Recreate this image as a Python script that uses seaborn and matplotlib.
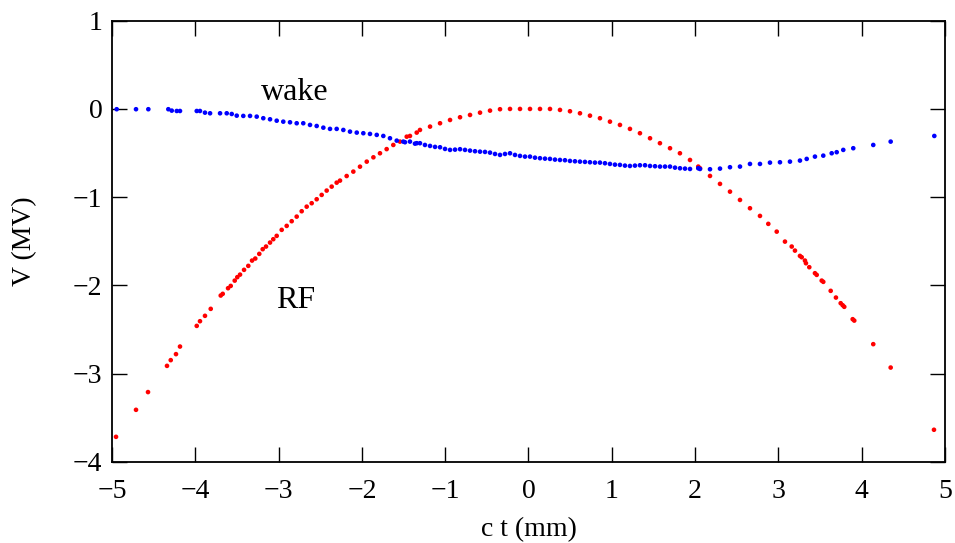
import numpy as np
import pandas as pd
import matplotlib
matplotlib.use("Agg")
import matplotlib.pyplot as plt
import seaborn as sns

# RF voltage (red)
rf_x = [-4.952, -4.712, -4.568, -4.340, -4.295, -4.232, -4.184, -3.983, -3.944, -3.884,
        -3.815, -3.695, -3.671, -3.607, -3.575, -3.527, -3.496, -3.463, -3.415, -3.364,
        -3.319, -3.280, -3.232, -3.191, -3.151, -3.103, -3.064, -3.023, -2.963, -2.903,
        -2.843, -2.783, -2.723, -2.663, -2.603, -2.543, -2.483, -2.423, -2.363, -2.303,
        -2.263, -2.183, -2.103, -2.023, -1.942, -1.862, -1.783, -1.703, -1.623, -1.543,
        -1.462, -1.423, -1.342, -1.303, -1.182, -1.062, -0.942, -0.822, -0.702, -0.582,
        -0.462, -0.342, -0.222, -0.102, 0.018, 0.138, 0.258, 0.378, 0.498, 0.618,
        0.738, 0.858, 0.978, 1.098, 1.218, 1.338, 1.459, 1.578, 1.699, 1.818,
        1.939, 2.038, 2.059, 2.179, 2.299, 2.419, 2.539, 2.659,
        2.779, 2.879, 2.980, 3.079, 3.160, 3.199, 3.259, 3.280, 3.319, 3.331,
        3.371, 3.439, 3.460, 3.520, 3.539, 3.628, 3.691, 3.748, 3.772, 3.791,
        3.892, 3.911, 4.139, 4.348, 4.868]
rf_y = [-3.715, -3.409, -3.208, -2.911, -2.846, -2.778, -2.692, -2.458, -2.405, -2.344,
        -2.265, -2.114, -2.095, -2.031, -2.005, -1.945, -1.906, -1.877, -1.823, -1.778,
        -1.718, -1.695, -1.642, -1.589, -1.559, -1.514, -1.476, -1.438, -1.370, -1.325,
        -1.272, -1.220, -1.159, -1.107, -1.068, -1.023, -0.974, -0.925, -0.880, -0.835,
        -0.812, -0.760, -0.710, -0.654, -0.597, -0.548, -0.502, -0.455, -0.408, -0.370,
        -0.314, -0.306, -0.268, -0.238, -0.200, -0.162, -0.125, -0.094, -0.068, -0.042,
        -0.019, -0.003, 0.000, 0.000, 0.000, 0.000, 0.000, -0.011, -0.026, -0.049,
        -0.076, -0.105, -0.144, -0.181, -0.226, -0.275, -0.332, -0.388, -0.445, -0.502,
        -0.578, -0.653, -0.672, -0.759, -0.849, -0.937, -1.031, -1.125,
        -1.212, -1.302, -1.390, -1.503, -1.559, -1.605, -1.665, -1.680, -1.718, -1.748,
        -1.793, -1.861, -1.880, -1.945, -1.959, -2.061, -2.137, -2.201, -2.224, -2.242,
        -2.382, -2.398, -2.665, -2.930, -3.635]

# wake voltage (blue)
wake_x = [-4.944, -4.712, -4.564, -4.324, -4.283, -4.223, -4.184, -3.983, -3.944, -3.884,
          -3.823, -3.703, -3.623, -3.563, -3.503, -3.424, -3.343, -3.263, -3.184, -3.103,
          -3.023, -2.944, -2.863, -2.783, -2.704, -2.623, -2.543, -2.463, -2.383, -2.303,
          -2.223, -2.143, -2.062, -1.983, -1.903, -1.822, -1.743, -1.663, -1.582, -1.503,
          -1.483, -1.423, -1.363, -1.342, -1.303, -1.243, -1.182, -1.122, -1.062, -1.002,
          -0.942, -0.882, -0.822, -0.762, -0.702, -0.642, -0.582, -0.522, -0.462, -0.402,
          -0.342, -0.282, -0.222, -0.162, -0.102, -0.042, 0.018, 0.078, 0.138, 0.198,
          0.258, 0.318, 0.378, 0.438, 0.498, 0.558, 0.618, 0.678, 0.738, 0.798,
          0.858, 0.918, 0.978, 1.038, 1.098, 1.158, 1.218, 1.278, 1.338, 1.399,
          1.459, 1.519, 1.579, 1.639, 1.699, 1.759, 1.819, 1.879, 1.939,
          2.038, 2.059, 2.179, 2.299, 2.419, 2.539, 2.659, 2.779, 2.899, 3.019,
          3.139, 3.259, 3.340, 3.439, 3.539, 3.640, 3.700, 3.779, 3.899, 4.139,
          4.348, 4.872]
wake_y = [-0.003, -0.003, -0.003, -0.003, -0.019, -0.023, -0.023, -0.023, -0.023, -0.042,
          -0.049, -0.049, -0.049, -0.057, -0.076, -0.079, -0.079, -0.087, -0.105, -0.117,
          -0.133, -0.144, -0.151, -0.162, -0.162, -0.181, -0.193, -0.212, -0.226, -0.226,
          -0.238, -0.257, -0.268, -0.275, -0.283, -0.294, -0.306, -0.332, -0.359, -0.370,
          -0.377, -0.370, -0.393, -0.388, -0.388, -0.408, -0.419, -0.430, -0.434, -0.453,
          -0.464, -0.461, -0.456, -0.464, -0.472, -0.479, -0.484, -0.487, -0.495, -0.510,
          -0.521, -0.510, -0.502, -0.521, -0.532, -0.540, -0.540, -0.552, -0.558, -0.563,
          -0.566, -0.574, -0.578, -0.581, -0.589, -0.593, -0.597, -0.600, -0.604, -0.608,
          -0.608, -0.615, -0.623, -0.631, -0.634, -0.642, -0.646, -0.642, -0.638, -0.638,
          -0.646, -0.649, -0.653, -0.653, -0.653, -0.665, -0.672, -0.676, -0.680,
          -0.672, -0.680, -0.683, -0.676, -0.660, -0.653, -0.623, -0.623, -0.608, -0.604,
          -0.597, -0.585, -0.566, -0.540, -0.529, -0.502, -0.490, -0.464, -0.445, -0.408,
          -0.370, -0.306]

x_ticks = [-5, -4, -3, -2, -1, 0, 1, 2, 3, 4, 5]
y_ticks = [1, 0, -1, -2, -3, -4]

df = pd.concat([
    pd.DataFrame({"ct": rf_x, "V": rf_y, "series": "RF"}),
    pd.DataFrame({"ct": wake_x, "V": wake_y, "series": "wake"}),
], ignore_index=True)

sns.set_style("ticks")
plt.rcParams["font.family"] = ["Liberation Serif", "DejaVu Serif"]
plt.rcParams["text.color"] = "black"
plt.rcParams["axes.labelcolor"] = "black"
plt.rcParams["xtick.color"] = "black"
plt.rcParams["ytick.color"] = "black"

fig = plt.figure(figsize=(9.55, 5.43), dpi=100)
ax = fig.add_axes([0.1173, 0.1492, 0.8722, 0.8127])

sns.scatterplot(data=df, x="ct", y="V", hue="series",
                palette={"RF": "#ff0000", "wake": "#0000ff"},
                s=11, linewidth=0, legend=False, ax=ax)

ax.set_xlim(-5, 5)
ax.set_ylim(-4, 1)
ax.set_xticks(x_ticks)
ax.set_yticks(y_ticks)
ax.tick_params(direction="in", length=10.5, width=1.0, top=True, right=True,
               labelsize=20, colors="black")
ax.tick_params(axis="x", pad=12)
ax.tick_params(axis="y", pad=7)
for sp in ax.spines.values():
    sp.set_visible(True)
    sp.set_linewidth(1.3)
    sp.set_color("black")

ax.set_xlabel("c t (mm)", fontsize=20, labelpad=10)
ax.set_ylabel("V (MV)", fontsize=20, labelpad=26)

ax.text(-3.21, 0.10, "wake", fontsize=23, ha="left", va="baseline")
ax.text(-3.035, -2.25, "RF", fontsize=23, ha="left", va="baseline")

fig.savefig("out.png", dpi=100)
